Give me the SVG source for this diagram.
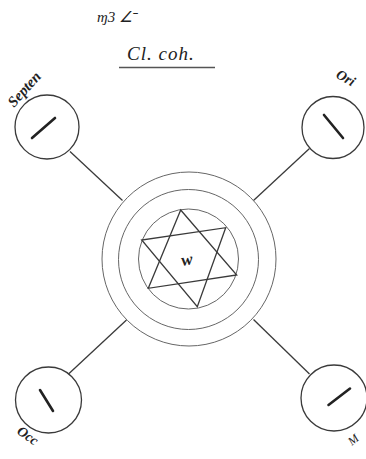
<svg xmlns="http://www.w3.org/2000/svg" width="366" height="459" viewBox="0 0 366 459">
<style>
.ln{stroke:#3a3a3a;stroke-width:1.3;fill:none}
.ring{stroke:#666;stroke-width:1;fill:none}
.mark{stroke:#222;stroke-width:2.6;stroke-linecap:round}
.hw{font-family:"Liberation Serif",serif;font-style:italic;fill:#222}
</style>
<rect width="366" height="459" fill="#fff"/>
<g id="title">
<text class="hw" x="97" y="22" font-size="15">ɱ3 ∠ˉ</text>
<text class="hw" x="127" y="60" font-size="19" letter-spacing="1">Cl. coh.</text>
<line x1="119" y1="67.5" x2="215" y2="67.5" stroke="#555" stroke-width="1.3"/>
</g>
<g id="connectors">
<line class="ln" x1="70" y1="151.5" x2="122.5" y2="200.5"/>
<line class="ln" x1="309.5" y1="148.5" x2="253.5" y2="200.5"/>
<line class="ln" x1="68.5" y1="374" x2="126.5" y2="320"/>
<line class="ln" x1="309.5" y1="374" x2="253.5" y2="319.5"/>
</g>
<g id="center">
<circle class="ring" cx="189" cy="259" r="87"/>
<circle class="ring" cx="188.5" cy="259.5" r="70"/>
<circle class="ring" cx="188.5" cy="259" r="50"/>
<polygon class="ln" points="180.7,210 236.7,275 148.3,288.3"/>
<polygon class="ln" points="225.7,227.7 197.3,306.7 141.7,240"/>
<text class="hw" x="181" y="265" font-size="17" font-weight="bold" transform="rotate(-10 188 258)">w</text>
</g>
<g id="node-ul">
<circle class="ln" cx="47" cy="127" r="32"/>
<line class="mark" x1="32" y1="138" x2="55" y2="118"/>
<text class="hw" x="14" y="108" font-size="15" font-weight="bold" transform="rotate(-48 14 108)">Septen</text>
</g>
<g id="node-ur">
<circle class="ln" cx="333" cy="127.5" r="31"/>
<line class="mark" x1="324" y1="115" x2="343" y2="138" stroke-width="1.8"/>
<text class="hw" x="335" y="77" font-size="14" font-weight="bold" transform="rotate(30 335 77)">Ori</text>
</g>
<g id="node-ll">
<circle class="ln" cx="48.5" cy="400" r="33"/>
<line class="mark" x1="40" y1="390" x2="53" y2="411"/>
<text class="hw" x="16" y="433" font-size="14" font-weight="bold" transform="rotate(35 16 433)">Occ</text>
</g>
<g id="node-lr">
<circle class="ln" cx="334" cy="398" r="33"/>
<line class="mark" x1="328.5" y1="405" x2="350" y2="388.5" stroke-width="1.8"/>
<text class="hw" x="352" y="446" font-size="12" transform="rotate(-40 352 446)">M</text>
</g>
</svg>
